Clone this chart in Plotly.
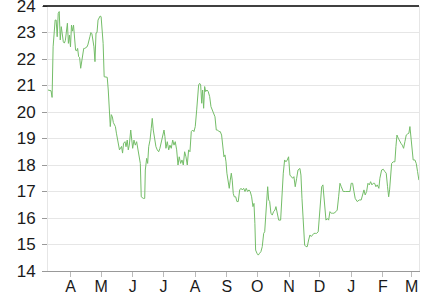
import pandas as pd
import plotly.graph_objects as go

start_date = "2010-03-10"

day_offsets = [
    0, 3, 4, 5, 7, 8, 9, 10, 11, 12, 13, 15, 16, 17, 19, 20, 21, 22, 23, 24, 25, 27, 28, 29, 30, 31, 32, 33,
    35, 36, 38, 39, 40, 41, 42, 43, 45, 46, 47, 48, 49, 51, 52, 53, 54, 55, 57, 58, 59, 60, 61, 62, 63, 64,
    66, 67, 68, 70, 72, 73, 74,
    75.4, 76.4, 77.6, 78.6, 79.6, 81, 81.9, 82.9, 84.2, 85.5, 86.8, 88.1, 89.4, 90.4, 91.3, 93.3, 94.7, 95.3,
    96.6, 97.6, 98.6, 99.9, 101.1, 102.1, 103.1, 104.5, 105.7, 107, 108.4, 109.6, 110.9, 112.3, 113.6, 114.5,
    115.5, 116.8, 118.2, 119.4, 120.7, 122.1, 123.4, 124.6, 126, 127.3, 128.5, 129.9, 131.2, 132.5, 133.8,
    135.1, 136.4, 137.7, 139, 140.3, 141.7, 142.9, 144.2, 145.6, 146.6, 147.5,
    148.5, 149.5, 150.5, 151.4, 152.4, 153.4, 154.4, 155.7, 156.9, 158.3, 159.6, 160.9, 162.2, 163.5, 164.8,
    166.1, 167.4, 168.7, 170, 171.3, 172.3, 173.3, 174.3, 175.2, 176.5, 177.5, 178.5, 179.5, 180.4, 181.4,
    182.4, 183.8, 185, 186.3, 187.7, 189, 190.2, 191.6, 192.9, 194.1, 195.5, 196.8, 198, 199.4, 200.7, 201.7,
    202.6, 203.3, 204.6, 205.9, 207.2, 208.5, 209.8, 211.2, 212.2, 213.1, 214.1, 215.1, 216.1, 217.1, 218.3,
    219.6, 220.9, 222.2,
    223.2, 224.5, 225.9, 227.8, 229.1, 230.4, 231.7, 233, 234.3, 235.6, 236.9, 238.2, 239.6, 240.8, 242.1,
    243.5, 244.8, 246.7, 247.7, 248.7, 249.9, 251.3, 252.6, 253.9, 255.2, 256.5, 257.8, 259.1, 260.4, 261.7,
    263, 264.6, 265.6, 267, 268, 269.2, 269.9, 270.9, 272.2, 273.5, 274.8, 276.1, 277.4, 278.7, 280, 282,
    283.2, 284.6, 285.9, 287.2, 289.1, 291.1, 293.7, 295.7, 296.9, 298.3, 299.6, 300.8, 302.8, 304.8, 306.7,
    308.1, 309.4, 310.6, 312, 313.3, 314.6, 315.9, 317.2, 318.5, 319.8, 321.1, 322.4, 324, 325, 326.7, 328.3,
    329.9, 331.2, 332.5, 333.6, 334.5, 335.5, 336.5, 338, 339.7, 340.7, 341.7, 343, 344.3, 345.6, 346.9,
    348.2, 349.5, 350.8, 352.1, 353.4, 354.4, 355.4, 356.7, 357.6, 359.3, 360.6, 361.9, 363.2,
]

values = [
    20.83, 20.80, 20.55, 22.46, 23.47, 23.47, 22.84, 23.72, 23.79, 22.72, 23.22, 22.65, 22.60, 22.70, 23.35,
    22.59, 22.90, 22.46, 23.28, 23.05, 23.28, 22.34, 22.30, 22.40, 22.09, 22.05, 21.65, 21.85, 22.40, 22.40,
    22.45, 22.53, 22.65, 22.84, 23.00, 22.95, 22.46, 21.90, 22.98, 23.00, 23.47, 23.62, 23.60, 23.22, 22.59,
    21.33, 21.30, 21.31, 20.83, 19.96, 19.45, 19.90, 19.82, 19.60, 19.45, 19.20, 18.94, 18.57, 18.70, 18.45,
    18.82,
    18.88, 18.69, 18.94, 18.57, 18.75, 19.32, 19.07, 18.63, 18.94, 18.75, 18.88, 18.57, 18.38, 18.06, 16.80,
    16.74, 16.74, 17.81, 18.25, 18.06, 18.69, 18.94, 19.38, 19.76, 19.32, 18.88, 18.69, 18.57, 18.50, 18.63,
    18.88, 19.20, 19.32, 19.07, 18.63, 18.88, 18.57, 18.75, 18.63, 18.94, 18.75, 18.88, 18.57, 18.00, 18.31,
    18.06, 18.19, 18.00, 18.50, 18.31, 18.00, 18.57, 18.50, 19.26, 19.32, 19.26, 19.45, 20.08, 20.70, 21.02,
    21.08, 21.02, 20.33, 20.83, 20.14, 20.96, 20.77, 20.83, 20.77, 20.58, 20.20, 20.08, 19.89, 19.82, 19.32,
    19.32, 19.26, 19.26, 19.13, 18.69, 18.31, 18.38, 18.12, 17.69, 17.31, 17.12, 17.43, 17.69, 17.43, 16.93,
    16.80, 16.80, 16.62, 16.62, 17.06, 17.12, 17.06, 17.12, 17.00, 17.12, 17.00, 17.06, 17.00, 16.80, 16.43,
    16.55, 15.80, 14.79, 14.67, 14.60, 14.67, 14.73, 14.92, 15.42, 15.48, 16.18, 16.62, 17.18, 16.68, 16.62,
    16.18, 16.11, 16.24, 16.30,
    16.43, 16.18, 15.92, 15.92, 16.87, 17.69, 18.19, 18.12, 18.19, 18.31, 17.62, 17.56, 17.50, 17.56, 17.18,
    17.50, 17.81, 17.87, 17.62, 16.74, 15.61, 14.98, 14.92, 14.92, 15.17, 15.36, 15.30, 15.36, 15.42, 15.42,
    15.42, 15.48, 16.05, 16.68, 17.18, 17.25, 16.93, 16.43, 15.92, 15.98, 15.92, 16.24, 16.18, 16.18, 16.18,
    16.24, 16.30, 16.80, 17.31, 17.18, 17.00, 17.00, 17.00, 17.00, 17.31, 17.31, 17.00, 16.74, 16.62, 16.68,
    16.68, 16.87, 17.06, 16.87, 17.00, 17.31, 17.25, 17.37, 17.25, 17.31, 17.31, 17.18, 17.25, 17.12, 17.50,
    17.81, 17.84, 17.75, 17.69, 17.18, 16.80, 17.06, 17.56, 18.06, 18.12, 18.12, 18.69, 19.13, 19.01, 18.88,
    18.82, 18.75, 18.63, 18.88, 19.13, 19.17, 19.20, 19.45, 19.07, 18.69, 18.19, 18.19, 18.06, 17.75, 17.43,
]

tick_dates = ["2010-04-01", "2010-05-01", "2010-06-01", "2010-07-01", "2010-08-01", "2010-09-01",
              "2010-10-01", "2010-11-01", "2010-12-01", "2011-01-01", "2011-02-01", "2011-03-01"]
tick_labels = ["A", "M", "J", "J", "A", "S", "O", "N", "D", "J", "F", "M"]

y_ticks = list(range(14, 25))

dates = pd.Timestamp(start_date) + pd.to_timedelta(day_offsets, unit="D")

fig = go.Figure()
fig.add_trace(go.Scatter(
    x=dates, y=values, mode="lines",
    line=dict(color="#74bd68", width=1),
    hoverinfo="skip",
))

fig.add_shape(type="line", xref="paper", yref="paper", x0=-0.0135, x1=1, y0=1, y1=1,
              line=dict(color="#000000", width=1.5), layer="above")

fig.update_layout(
    width=433, height=294,
    margin=dict(l=48, r=14, t=6, b=23, autoexpand=False),
    paper_bgcolor="white", plot_bgcolor="white",
    showlegend=False,
    font=dict(family="Liberation Sans, Arial, sans-serif", size=17, color="#1a1a1a"),
    xaxis=dict(
        range=[pd.Timestamp(start_date), pd.Timestamp(start_date) + pd.Timedelta(days=363.3)],
        tickvals=tick_dates, ticktext=tick_labels,
        ticks="outside", ticklen=5, tickcolor="#bbbbbb", tickwidth=1,
        showgrid=False, zeroline=False,
        showline=True, linecolor="#999999", linewidth=1,
        automargin=False, ticklabeloverflow="allow", ticklabelstandoff=-4,
        tickfont=dict(size=16),
    ),
    yaxis=dict(
        range=[14, 24], tickvals=y_ticks,
        ticks="outside", ticklen=5, tickcolor="#999999", tickwidth=1,
        showgrid=True, gridcolor="#e6e6e6", gridwidth=1,
        zeroline=False,
        showline=True, linecolor="#e6e6e6", linewidth=1, mirror=True,
        automargin=False, ticklabeloverflow="allow", ticklabelstandoff=3,
        tickfont=dict(size=17),
    ),
)

fig.write_html("out.html")
